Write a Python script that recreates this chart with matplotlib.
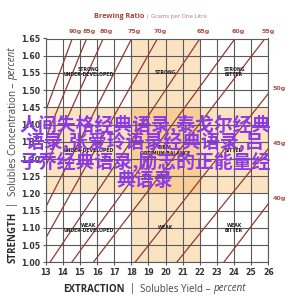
import matplotlib
matplotlib.use('Agg')
import matplotlib.pyplot as plt
import numpy as np

# ---------------- data ----------------
ey_ticks = list(range(13, 27))
tds_ticks = [1.00, 1.05, 1.10, 1.15, 1.20, 1.25, 1.30, 1.35, 1.40, 1.45, 1.50, 1.55, 1.60, 1.65]
tds_labels = ['1.00', '1.05', '1.10', '1.15', '1.20', '1.25', '1.30', '1.35', '1.40', '1.45', '1.50', '1.55', '1.60', '1.65']

ratio_doses = ['90g', '85g', '80g', '75g', '70g', '65g', '60g', '55g', '50g', '45g', '40g']
# extraction (%) where each brewing-ratio line meets strength 1.00 % and 1.65 %
ratio_ey_at_100 = [9.75, 10.03, 10.46, 11.36, 12.21, 13.25, 14.52, 15.78, 18.22, 20.65, 23.40]
ratio_ey_at_165 = [14.55, 15.39, 16.36, 18.02, 19.53, 22.01, 24.06, 25.81, 28.54, 31.19, 33.34]
tds_low, tds_high = 1.00, 1.65

ideal_ey = [18, 22]
ideal_tds = [1.20, 1.45]

zone_labels = ['STRONG\nUNDER-DEVELOPED', 'STRONG', 'STRONG\nBITTER',
               'UNDER-DEVELOPED', 'IDEAL\nOPTIMUM BALANCE', 'BITTER',
               'WEAK\nUNDER-DEVELOPED', 'WEAK', 'WEAK\nBITTER']
zone_ey = [15.5, 20.0, 24.0, 15.5, 20.0, 24.0, 15.5, 20.0, 24.0]
zone_tds = [1.552, 1.552, 1.552, 1.325, 1.325, 1.325, 1.10, 1.10, 1.10]

watermark_lines = ['人间失格经典语录,泰戈尔经典', '语录,张爱玲语录经典语录,吕',
                   '子乔经典语录,励志的正能量经', '典语录']

# ---------------- figure ----------------
W, H = 290, 303
fig = plt.figure(figsize=(W / 100, H / 100), dpi=100)
fig.patch.set_facecolor('white')

def fx(px):
    return px / W

def fy(py):
    return 1 - py / H

x0, x1, ytop, ybot = 45.7, 268.3, 38.5, 262.3
ax = fig.add_axes([fx(x0), fy(ybot), fx(x1) - fx(x0), fy(ytop) - fy(ybot)])
ax.set_xlim(13, 26)
ax.set_ylim(1.00, 1.65)

LIGHT = '#FBE3C2'
DARK = '#F8CD96'
ax.axvspan(ideal_ey[0], ideal_ey[1], color=LIGHT, lw=0, zorder=0)
ax.axhspan(ideal_tds[0], ideal_tds[1], color=LIGHT, lw=0, zorder=0)
ax.fill_between(ideal_ey, ideal_tds[0], ideal_tds[1], color=DARK, lw=0, zorder=0.5)

GRID = '#5a5a5a'
for v in ey_ticks:
    ax.axvline(v, color=GRID, lw=0.8, zorder=1)
for v in tds_ticks:
    ax.axhline(v, color=GRID, lw=0.8, zorder=1)

LINEC = '#8E3B35'
LABC = '#A8504A'
for dose, e_lo, e_hi in zip(ratio_doses, ratio_ey_at_100, ratio_ey_at_165):
    ax.plot([e_lo, e_hi], [tds_low, tds_high], color=LINEC, lw=0.9, zorder=2,
            solid_capstyle='butt')
    if e_hi <= 26:
        ax.annotate(dose, xy=(e_hi, tds_high), xytext=(2, 3), textcoords='offset points',
                    ha='center', va='bottom', fontsize=4.6, fontweight='bold', color=LABC,
                    annotation_clip=False)
    else:
        t_edge = tds_low + (26 - e_lo) * (tds_high - tds_low) / (e_hi - e_lo)
        ax.annotate(dose, xy=(26, t_edge), xytext=(3, 3.5), textcoords='offset points',
                    ha='left', va='center', fontsize=4.6, fontweight='bold', color=LABC,
                    annotation_clip=False)

for lab, ex, ty in zip(zone_labels, zone_ey, zone_tds):
    ax.text(ex, ty, lab, ha='center', va='center', fontsize=3.3, fontweight='bold',
            color='#222222', linespacing=1.1, zorder=3)

for sp in ax.spines.values():
    sp.set_color(GRID)
    sp.set_linewidth(0.8)
ax.set_xticks(ey_ticks)
ax.set_xticklabels([str(v) for v in ey_ticks])
ax.set_yticks(tds_ticks)
ax.set_yticklabels(tds_labels)
ax.tick_params(axis='both', length=2.5, width=0.8, color=GRID, pad=1.5,
               labelsize=5.6, labelcolor='#333333')
for t in ax.get_xticklabels() + ax.get_yticklabels():
    t.set_fontweight('bold')

# ---------------- mixed-style texts ----------------
renderer = fig.canvas.get_renderer()

def piece_width(txt, **kw):
    t = fig.text(0, 0, txt, **kw)
    w = t.get_window_extent(renderer=renderer).width
    t.remove()
    return w

def rich_text(xpx, ypx, pieces, rotation=0):
    pos = 0.0
    for txt, kw in pieces:
        if rotation == 0:
            fig.text(fx(xpx + pos), fy(ypx), txt, ha='left', va='baseline', **kw)
        else:
            fig.text(fx(xpx), fy(ypx - pos), txt, ha='left', va='baseline',
                     rotation=90, rotation_mode='anchor', **kw)
        pos += piece_width(txt, **kw)

FONT = 'Open Sans'
axc = '#2b2b2b'
FS = 7.0
rich_text(63, 291.5, [
    ('EXTRACTION', dict(fontsize=FS, fontweight='bold', color=axc, family=FONT)),
    ('  |  ', dict(fontsize=FS, color=axc, family=FONT)),
    ('Solubles Yield – ', dict(fontsize=FS, color='#444444', family=FONT)),
    ('percent', dict(fontsize=FS, color='#444444', style='italic', family=FONT)),
])
rich_text(15.5, 263, [
    ('STRENGTH', dict(fontsize=FS, fontweight='bold', color=axc, family=FONT)),
    ('  |  ', dict(fontsize=FS, color=axc, family=FONT)),
    ('Solubles Concentration – ', dict(fontsize=FS, color='#444444', family=FONT)),
    ('percent', dict(fontsize=FS, color='#444444', style='italic', family=FONT)),
], rotation=90)

# title
rich_text(94, 18, [
    ('Brewing Ratio', dict(fontsize=5.2, fontweight='bold', color='#A5433F', family=FONT)),
    (' | ', dict(fontsize=4.6, color='#B07070', family=FONT)),
    ('Grams per One Litre', dict(fontsize=4.2, color='#B07A7A', family=FONT)),
])

# overlaid watermark text
wm_y = [124.5, 142, 161.5, 180]
for line, ypx in zip(watermark_lines, wm_y):
    fig.text(fx(145), fy(ypx), line, ha='center', va='center', fontsize=13.6,
             fontweight='bold', color='#8D3BEA', family=['Noto Sans CJK SC', 'DejaVu Sans'],
             zorder=10)

fig.savefig('out.png', dpi=100, facecolor='white')
